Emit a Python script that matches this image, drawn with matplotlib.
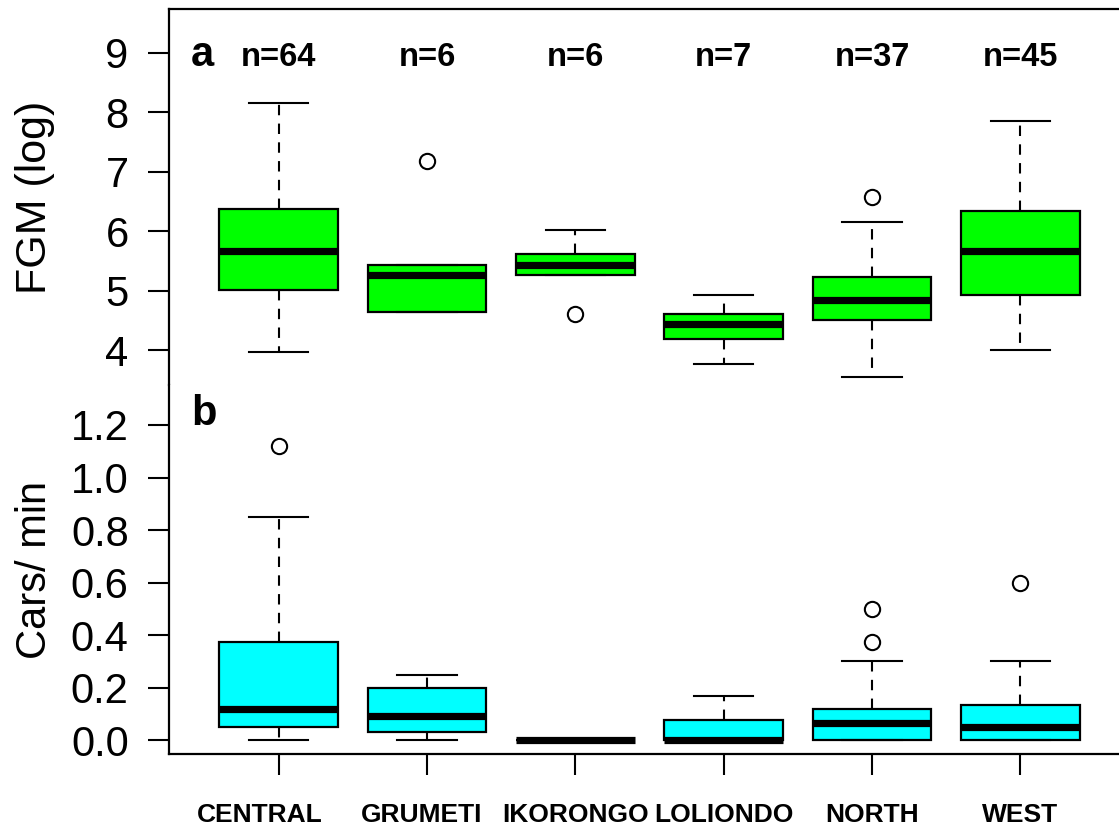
import matplotlib
matplotlib.use("Agg")
from matplotlib import pyplot as plt
from matplotlib.transforms import ScaledTranslation
import numpy as np

plt.rcParams['font.family'] = ['Liberation Sans', 'DejaVu Sans']

sites = ["CENTRAL", "GRUMETI", "IKORONGO", "LOLIONDO", "NORTH", "WEST"]
n_labels = ["n=64", "n=6", "n=6", "n=7", "n=37", "n=45"]

# panel a: FGM (log)
fgm_whislo = [3.98, 4.64, 5.26, 3.77, 3.56, 4.00]
fgm_q1 = [5.02, 4.64, 5.26, 4.20, 4.52, 4.93]
fgm_med = [5.67, 5.27, 5.43, 4.44, 4.85, 5.67]
fgm_q3 = [6.38, 5.43, 5.62, 4.62, 5.24, 6.34]
fgm_whishi = [8.16, 5.43, 6.03, 4.93, 6.16, 7.85]
fgm_fliers = [[], [7.19], [4.61], [], [6.58], []]

# panel b: cars per minute
cars_whislo = [0.0, 0.0, 0.0, 0.0, 0.0, 0.0]
cars_q1 = [0.05, 0.033, 0.0, 0.0, 0.0, 0.0]
cars_med = [0.12, 0.093, 0.0, 0.0, 0.066, 0.05]
cars_q3 = [0.375, 0.2, 0.0, 0.076, 0.12, 0.135]
cars_whishi = [0.85, 0.25, 0.0, 0.167, 0.3, 0.3]
cars_fliers = [[1.12], [], [], [], [0.5, 0.375], [0.6]]

pos = np.arange(1, len(sites) + 1)


def make_stats(lo, q1, med, q3, hi, fl):
	out = []
	for i in range(len(lo)):
		out.append(dict(whislo=lo[i], q1=q1[i], med=med[i], q3=q3[i],
						whishi=hi[i], fliers=fl[i]))
	return out


def draw(ax, stats, col):
	ax.bxp(stats, positions=pos, widths=0.8, capwidths=0.4, patch_artist=True,
		   boxprops=dict(facecolor=col, edgecolor='black', linewidth=1.6),
		   medianprops=dict(color='black', linewidth=5.2, solid_capstyle='butt'),
		   whiskerprops=dict(color='black', linewidth=1.5, linestyle=(0, (5, 4))),
		   capprops=dict(color='black', linewidth=1.5),
		   flierprops=dict(marker='o', markerfacecolor='white', markeredgecolor='black',
						   markersize=11, markeredgewidth=1.5))


fig = plt.figure(figsize=(11.19, 8.26), dpi=100)
ax1 = fig.add_axes([0.15103, 0.53390, 0.8588, 0.45484])
ax2 = fig.add_axes([0.15103, 0.08717, 0.8588, 0.44673])

draw(ax1, make_stats(fgm_whislo, fgm_q1, fgm_med, fgm_q3, fgm_whishi, fgm_fliers), '#00ff00')
draw(ax2, make_stats(cars_whislo, cars_q1, cars_med, cars_q3, cars_whishi, cars_fliers), '#00ffff')

for ax in (ax1, ax2):
	ax.set_xlim(0.26, 6.74)
	ax.spines['right'].set_visible(False)
	for s in ax.spines.values():
		s.set_linewidth(1.6)
	ax.tick_params(axis='y', length=15, width=1.5, pad=14, labelsize=30)

ax1.set_ylim(3.42, 9.73)
ax1.set_yticks([4, 5, 6, 7, 8, 9])
ax1.spines['bottom'].set_visible(False)
ax1.tick_params(axis='x', bottom=False, labelbottom=False)

ax2.set_ylim(-0.052, 1.352)
ax2.set_yticks([0.0, 0.2, 0.4, 0.6, 0.8, 1.0, 1.2])
ax2.set_yticklabels(["0.0", "0.2", "0.4", "0.6", "0.8", "1.0", "1.2"])
ax2.spines['top'].set_visible(False)
ax2.set_xticks(pos)
ax2.set_xticklabels(sites, fontweight='bold', fontsize=19)
ax2.tick_params(axis='x', length=15, width=1.5, pad=20.5)
# the CENTRAL label sits a little left of its tick in the original
lab0 = ax2.get_xticklabels()[0]
lab0.set_transform(lab0.get_transform() + ScaledTranslation(-19 / 100, 0, fig.dpi_scale_trans))
lab1 = ax2.get_xticklabels()[1]
lab1.set_transform(lab1.get_transform() + ScaledTranslation(-5 / 100, 0, fig.dpi_scale_trans))

ax1.set_ylabel("FGM (log)", fontsize=31)
ax2.set_ylabel("Cars/ min", fontsize=30)
for ax in (ax1, ax2):
	ax.yaxis.set_label_coords(-0.128, 0.5)
	ax.yaxis.label.set_va('baseline')

for x, lab in zip(pos, n_labels):
	ax1.text(x, 8.78, lab, ha='center', va='baseline', fontsize=23.5, fontweight='bold')
ax1.text(0.41, 8.78, "a", ha='left', va='baseline', fontsize=30, fontweight='bold')
ax2.text(0.41, 1.199, "b", ha='left', va='baseline', fontsize=30, fontweight='bold')

fig.savefig("out.png", dpi=100)
